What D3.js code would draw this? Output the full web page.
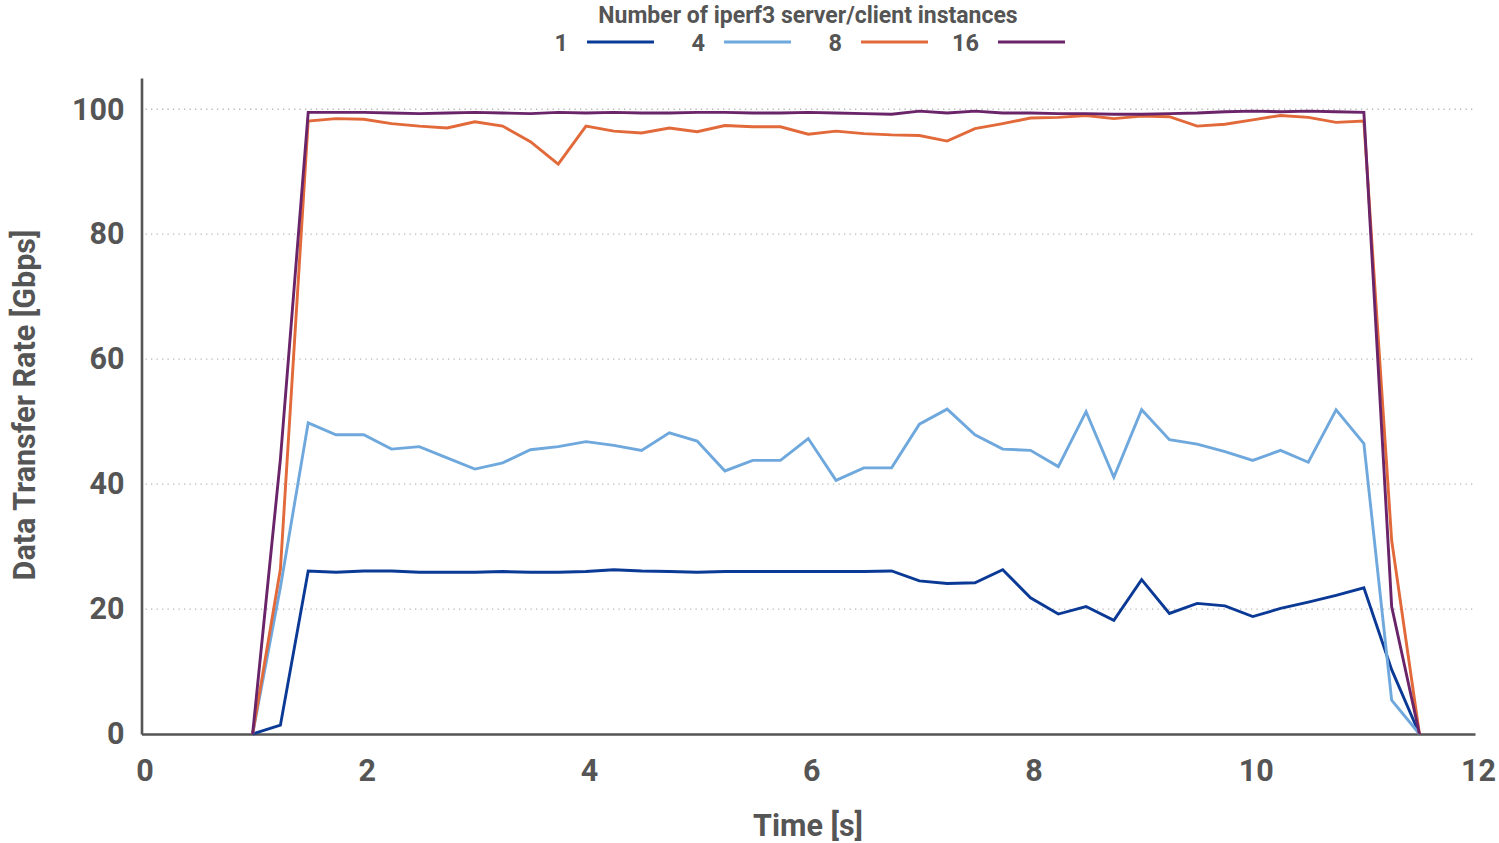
<!DOCTYPE html>
<html>
<head>
<meta charset="utf-8">
<script src="https://cdn.jsdelivr.net/npm/d3@7"></script>
<style>
  html, body { margin: 0; padding: 0; background: #fff; }
  svg { display: block; }
  text { font-family: Roboto, "Noto Sans", sans-serif; font-weight: 700; fill: #555; }
</style>
</head>
<body>
<svg id="chart" width="1499" height="843"></svg>
<script>
// Sample times (s)
const times = [1.0, 1.25, 1.5, 1.75, 2.0, 2.25, 2.5, 2.75, 3.0, 3.25, 3.5, 3.75,
  4.0, 4.25, 4.5, 4.75, 5.0, 5.25, 5.5, 5.75, 6.0, 6.25, 6.5, 6.75, 7.0, 7.25,
  7.5, 7.75, 8.0, 8.25, 8.5, 8.75, 9.0, 9.25, 9.5, 9.75, 10.0, 10.25, 10.5,
  10.75, 11.0, 11.25, 11.5];

// Data transfer rate (Gbps) per number of iperf3 instances
const rate1 = [0, 1.4, 26.1, 25.9, 26.1, 26.1, 25.9, 25.9, 25.9, 26.0, 25.9, 25.9,
  26.0, 26.3, 26.1, 26.0, 25.9, 26.0, 26.0, 26.0, 26.0, 26.0, 26.0, 26.1, 24.5, 24.1,
  24.2, 26.3, 21.8, 19.2, 20.4, 18.2, 24.7, 19.3, 20.9, 20.5, 18.8, 20.1, 21.1,
  22.2, 23.4, 10.3, 0];
const rate4 = [0, 23.5, 49.8, 47.9, 47.9, 45.6, 46.0, 44.2, 42.4, 43.4, 45.5, 46.0,
  46.8, 46.2, 45.4, 48.2, 46.9, 42.1, 43.8, 43.8, 47.3, 40.6, 42.6, 42.6, 49.6, 52.0,
  47.9, 45.6, 45.4, 42.8, 51.6, 41.1, 51.9, 47.1, 46.4, 45.2, 43.8, 45.4, 43.5,
  51.9, 46.5, 5.4, 0];
const rate8 = [0, 26.4, 98.1, 98.5, 98.4, 97.7, 97.3, 97.0, 98.0, 97.3, 94.8, 91.2,
  97.3, 96.5, 96.2, 97.0, 96.4, 97.4, 97.2, 97.2, 96.0, 96.5, 96.1, 95.9, 95.8, 94.9,
  96.9, 97.7, 98.6, 98.7, 99.0, 98.5, 98.9, 98.8, 97.3, 97.6, 98.3, 99.0, 98.7,
  97.9, 98.1, 31.0, 0];
const rate16 = [0, 44.0, 99.5, 99.5, 99.5, 99.4, 99.3, 99.4, 99.5, 99.4, 99.3, 99.5,
  99.4, 99.5, 99.4, 99.4, 99.5, 99.5, 99.4, 99.4, 99.5, 99.4, 99.3, 99.2, 99.7, 99.4,
  99.7, 99.4, 99.4, 99.3, 99.3, 99.2, 99.2, 99.3, 99.4, 99.6, 99.7, 99.6, 99.7,
  99.6, 99.5, 20.4, 0];

const seriesNames = ["1", "4", "8", "16"];
const seriesValues = [rate1, rate4, rate8, rate16];
const seriesColors = ["#0b3a96", "#6fa8dc", "#e2693a", "#6a2469"];

const xTicks = [0, 2, 4, 6, 8, 10, 12];
const yTicks = [0, 20, 40, 60, 80, 100];

const legendTitle = "Number of iperf3 server/client instances";
const xTitle = "Time [s]";
const yTitle = "Data Transfer Rate [Gbps]";

const svg = d3.select("#chart");
const plot = { left: 141.5, right: 1475, top: 78, bottom: 734 };

const x = d3.scaleLinear().domain([0, 12]).range([plot.left, plot.right]);
const y = d3.scaleLinear().domain([0, 105]).range([plot.bottom, plot.top]);

// dotted horizontal gridlines
svg.append("g")
  .selectAll("line")
  .data(yTicks.filter(d => d > 0))
  .join("line")
  .attr("x1", plot.left + 4)
  .attr("x2", plot.right)
  .attr("y1", d => y(d))
  .attr("y2", d => y(d))
  .attr("stroke", "#b8b8b8")
  .attr("stroke-width", 1.3)
  .attr("stroke-dasharray", "1.3,4.2");

// y axis
const yAxis = svg.append("g")
  .attr("transform", `translate(${plot.left},0)`)
  .call(d3.axisLeft(y).tickValues(yTicks).tickSize(0).tickPadding(17));
yAxis.select(".domain").attr("stroke", "#555").attr("stroke-width", 2.6);
yAxis.selectAll("text")
  .attr("font-size", 30.5)
  .attr("fill", "#555")
  .style("font-family", "Roboto, sans-serif")
  .style("font-weight", 700);

// x axis
const xAxis = svg.append("g")
  .attr("transform", `translate(0,${plot.bottom})`)
  .call(d3.axisBottom(x).tickValues(xTicks).tickSize(0).tickPadding(25));
xAxis.select(".domain").attr("stroke", "#555").attr("stroke-width", 2.6);
xAxis.selectAll("text")
  .attr("font-size", 30.5)
  .attr("fill", "#555")
  .attr("dx", 3)
  .style("font-family", "Roboto, sans-serif")
  .style("font-weight", 700);

// series lines
const line = d3.line()
  .x(d => x(d[0]))
  .y(d => y(d[1]));

svg.append("g")
  .selectAll("path")
  .data(seriesValues.map((vals, i) => ({ i, pts: times.map((t, k) => [t, vals[k]]) })))
  .join("path")
  .attr("d", d => line(d.pts))
  .attr("fill", "none")
  .attr("stroke", d => seriesColors[d.i])
  .attr("stroke-width", 2.9)
  .attr("stroke-linejoin", "miter");

// axis titles
svg.append("text")
  .attr("x", 808)
  .attr("y", 836)
  .attr("text-anchor", "middle")
  .attr("font-size", 30.5)
  .text(xTitle);

svg.append("text")
  .attr("transform", "translate(35,405) rotate(-90)")
  .attr("text-anchor", "middle")
  .attr("font-size", 30.5)
  .text(yTitle);

// legend
svg.append("text")
  .attr("x", 808)
  .attr("y", 23)
  .attr("text-anchor", "middle")
  .attr("font-size", 23)
  .text(legendTitle);

const legend = svg.append("g")
  .selectAll("g")
  .data(seriesNames)
  .join("g")
  .attr("transform", (d, i) => `translate(${587 + i * 137},42)`);

legend.append("text")
  .attr("x", -19)
  .attr("y", 8.5)
  .attr("text-anchor", "end")
  .attr("font-size", 23.5)
  .text(d => d);

legend.append("line")
  .attr("x1", 0)
  .attr("x2", 67)
  .attr("y1", 0)
  .attr("y2", 0)
  .attr("stroke", (d, i) => seriesColors[i])
  .attr("stroke-width", 3);
</script>
</body>
</html>
